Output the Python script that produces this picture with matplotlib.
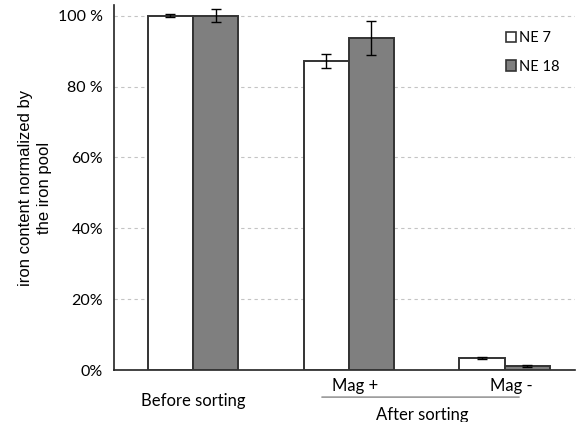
import matplotlib.pyplot as plt
import numpy as np
from matplotlib.patches import Patch

plt.rcParams['font.family'] = ['Lato', 'DejaVu Sans']

groups = ["Before sorting", "Mag +", "Mag -"]
ne7 = [100.0, 87.3, 3.4]
ne7_err = [0.5, 2.0, 0.3]
ne18 = [100.0, 93.8, 1.1]
ne18_err = [1.9, 4.8, 0.2]
yticks = [0, 20, 40, 60, 80, 100]
ytick_labels = ["0%", "20%", "40%", "60%", "80 %", "100 %"]

fig = plt.figure(figsize=(5.76, 4.22), dpi=100)
ax = fig.add_axes([0.198, 0.123, 0.80, 0.865])

x = np.arange(len(groups))
w = 0.29
edge = '#333333'
ax.bar(x - w / 2, ne7, w, color='white', edgecolor=edge, linewidth=1.4,
       yerr=ne7_err, capsize=3.5, error_kw=dict(lw=1, ecolor='black', capthick=1), zorder=3)
ax.bar(x + w / 2, ne18, w, color='#7f7f7f', edgecolor=edge, linewidth=1.4,
       yerr=ne18_err, capsize=3.5, error_kw=dict(lw=1, ecolor='black', capthick=1), zorder=3)

ax.set_xlim(-0.506, 2.45)
ax.set_ylim(0, 103)
ax.set_yticks(yticks)
ax.set_yticklabels(ytick_labels, fontsize=11.5)
ax.tick_params(axis='y', length=0, pad=8)
ax.set_xticks([])
ax.yaxis.grid(True, linestyle=(0, (3, 3)), color='#c4c4c4', linewidth=0.8, zorder=0)
ax.set_axisbelow(True)
for s in ['top', 'right']:
    ax.spines[s].set_visible(False)
for s in ['left', 'bottom']:
    ax.spines[s].set_color('#222222')
    ax.spines[s].set_linewidth(1.2)

ax.set_ylabel("iron content normalized by\nthe iron pool", fontsize=12,
              family='Liberation Sans', labelpad=4, linespacing=1.35)

# category labels below the axis
trans = ax.get_xaxis_transform()
ax.annotate(groups[0], xy=(0, 0), xycoords=trans, xytext=(0, -31), textcoords='offset pixels',
            ha='center', va='center', fontsize=12)
ax.annotate(groups[1], xy=(1.04, 0), xycoords=trans, xytext=(0, -16), textcoords='offset pixels',
            ha='center', va='center', fontsize=12)
ax.annotate(groups[2], xy=(2.04, 0), xycoords=trans, xytext=(0, -16), textcoords='offset pixels',
            ha='center', va='center', fontsize=12)
ax.annotate("", xy=(0.81, -0.074), xycoords=trans, xytext=(2.11, -0.074), textcoords=trans,
            arrowprops=dict(arrowstyle='-', color='#999999', lw=1.2), annotation_clip=False)
ax.annotate("After sorting", xy=(1.47, 0), xycoords=trans, xytext=(0, -45), textcoords='offset pixels',
            ha='center', va='center', fontsize=12)

handles = [Patch(facecolor='white', edgecolor=edge, linewidth=1.2, label='NE 7'),
           Patch(facecolor='#7f7f7f', edgecolor=edge, linewidth=1.2, label='NE 18')]
ax.legend(handles=handles, loc='upper left', bbox_to_anchor=(0.822, 0.965), frameon=False,
          handlelength=0.7, handleheight=0.7, handletextpad=0.2, labelspacing=1.0, fontsize=10.5)

fig.savefig('out.png', dpi=100)
